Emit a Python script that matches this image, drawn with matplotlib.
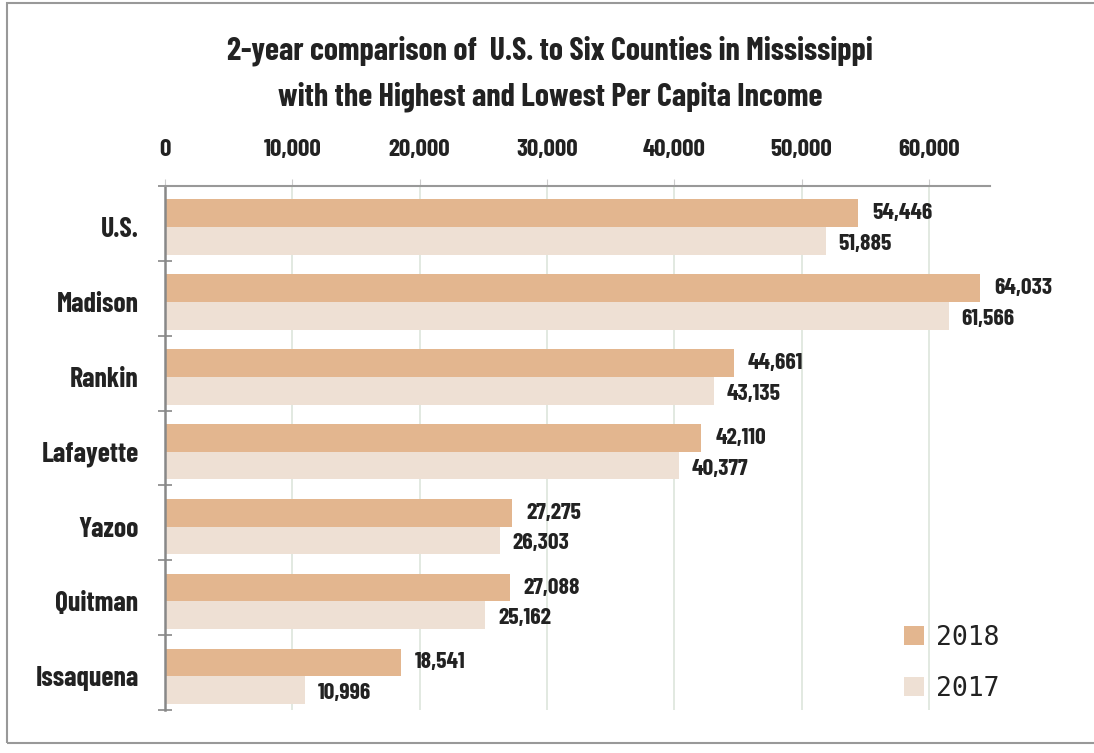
import numpy as np
import matplotlib.pyplot as plt
from matplotlib.patches import Rectangle
from matplotlib.ticker import FixedLocator

counties = ['U.S.', 'Madison', 'Rankin', 'Lafayette', 'Yazoo', 'Quitman', 'Issaquena']
income_2018 = [54446, 64033, 44661, 42110, 27275, 27088, 18541]
income_2017 = [51885, 61566, 43135, 40377, 26303, 25162, 10996]
x_ticks = [0, 10000, 20000, 30000, 40000, 50000, 60000]

color_2018 = '#E3B68F'
color_2017 = '#EEE0D4'
cond = ['Barlow Condensed', 'DejaVu Sans']

fig = plt.figure(figsize=(10.94, 7.53), dpi=100)
ax = fig.add_axes([165 / 1094, 43 / 753, 825 / 1094, 524 / 753])

# frame round the whole graphic
fig.patches.append(Rectangle((7 / 1094, 10 / 753), 1.1, 740 / 753, transform=fig.transFigure,
                             fill=False, edgecolor='#999999', linewidth=1.5, clip_on=False))

y = np.arange(len(counties))
h = 0.37
off = 0.05
ax.barh(y - h / 2 + off, income_2018, height=h, color=color_2018, label='2018', zorder=2)
ax.barh(y + h / 2 + off, income_2017, height=h, color=color_2017, label='2017', zorder=2)

for i in range(len(counties)):
    ax.text(income_2018[i] + 1100, y[i] - h / 2 + off, f'{income_2018[i]:,}', va='center', ha='left',
            fontsize=17, fontweight='bold', family=cond, color='#222222')
    ax.text(income_2017[i] + 1000, y[i] + h / 2 + off + 0.04, f'{income_2017[i]:,}', va='center', ha='left',
            fontsize=17, fontweight='bold', family=cond, color='#222222')

ax.set_xlim(0, 64800)
ax.set_ylim(len(counties) - 0.5, -0.5)

ax.xaxis.tick_top()
ax.set_xticks(x_ticks)
ax.set_xticklabels([f'{t:,}' for t in x_ticks], fontsize=18, fontweight='bold', family=cond, color='#222222')
ax.tick_params(axis='x', length=5, color='#cccccc', pad=13)
ax.grid(axis='x', color='#dde5dc', linewidth=1.2, zorder=0)

ax.set_yticks(y + off)
ax.set_yticklabels(counties, fontsize=20, fontweight='bold', family=cond, color='#222222')
ax.tick_params(axis='y', which='major', length=0, pad=19)
ax.yaxis.set_minor_locator(FixedLocator(np.arange(-0.5, len(counties), 1)))
ax.tick_params(axis='y', which='minor', length=10, direction='inout', color='#888888', width=1.2)

for s in ['right', 'bottom']:
    ax.spines[s].set_visible(False)
ax.spines['top'].set_color('#999999')
ax.spines['top'].set_linewidth(1.5)
ax.spines['left'].set_color('#888888')
ax.spines['left'].set_linewidth(1.8)

leg = ax.legend(loc='lower right', bbox_to_anchor=(1.04, -0.03), frameon=False,
                prop={'family': 'DejaVu Sans Mono', 'size': 19}, handlelength=0.75, handleheight=0.75,
                handletextpad=0.45, labelspacing=0.95)
for t in leg.get_texts():
    t.set_color('#222222')

fig.text(0.503, 0.932, '2-year comparison of  U.S. to Six Counties in Mississippi',
         ha='center', va='center', fontsize=23, fontweight='bold', family=cond, color='#222222')
fig.text(0.503, 0.872, 'with the Highest and Lowest Per Capita Income',
         ha='center', va='center', fontsize=23, fontweight='bold', family=cond, color='#222222')

fig.savefig('out.png', dpi=100)
